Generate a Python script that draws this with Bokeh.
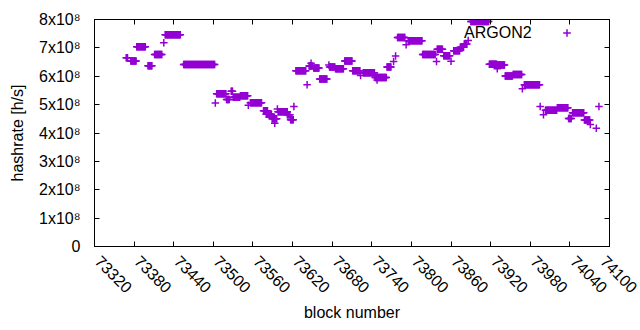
import numpy as np
from bokeh.plotting import figure
from bokeh.models import (Range1d, LinearAxis, FixedTicker, Label, Legend,
                          LegendItem, ColumnDataSource)
from bokeh.embed import file_html
from bokeh.resources import INLINE

# runs of consecutive blocks sharing the same hashrate estimate
run_start = [73368, 73375, 73384, 73401, 73411, 73425, 73427, 73455, 73503, 73505,
             73520, 73527, 73530, 73541, 73553, 73556, 73576, 73580, 73589, 73593,
             73597, 73598, 73612, 73617, 73622, 73625, 73642, 73645, 73648, 73652,
             73661, 73675, 73676, 73685, 73699, 73711, 73723, 73727, 73745, 73748,
             73763, 73773, 73776, 73779, 73792, 73795, 73817, 73838, 73839, 73849,
             73860, 73864, 73874, 73880, 73886, 73890, 73918, 73930, 73930, 73942,
             73954, 73968, 73971, 73995, 74000, 74003, 74021, 74038, 74044, 74062,
             74071, 74080, 74084]
run_end = [73370, 73383, 73397, 73407, 73422, 73425, 73450, 73502, 73503, 73519,
           73524, 73529, 73540, 73552, 73553, 73573, 73582, 73588, 73596, 73593,
           73597, 73612, 73616, 73621, 73622, 73640, 73642, 73650, 73648, 73660,
           73672, 73675, 73684, 73697, 73710, 73722, 73723, 73744, 73762, 73748,
           73769, 73773, 73776, 73790, 73792, 73816, 73836, 73838, 73847, 73858,
           73860, 73873, 73879, 73884, 73886, 73917, 73929, 73941, 73930, 73953,
           73967, 73968, 73994, 73995, 74000, 74020, 74037, 74042, 74061, 74070,
           74071, 74080, 74084]
run_hashrate = [6.65e8, 6.54e8, 7.04e8, 6.37e8, 6.77e8, 7.18e8, 7.46e8, 6.41e8, 5.06e8, 5.38e8,
                5.18e8, 5.47e8, 5.26e8, 5.31e8, 4.98e8, 5.07e8, 4.78e8, 4.66e8, 4.50e8, 4.34e8,
                4.85e8, 4.75e8, 4.64e8, 4.47e8, 4.93e8, 6.19e8, 5.70e8, 6.36e8, 6.46e8, 6.29e8,
                5.90e8, 6.40e8, 6.33e8, 6.26e8, 6.54e8, 6.19e8, 6.03e8, 6.12e8, 5.96e8, 5.87e8,
                6.33e8, 6.52e8, 6.71e8, 7.37e8, 7.11e8, 7.25e8, 6.77e8, 6.52e8, 6.95e8, 6.72e8,
                6.53e8, 6.90e8, 7.02e8, 7.14e8, 7.26e8, 7.93e8, 6.42e8, 6.40e8, 6.26e8, 6.01e8,
                6.06e8, 5.56e8, 5.70e8, 4.93e8, 4.64e8, 4.80e8, 4.89e8, 4.51e8, 4.71e8, 4.46e8,
                4.30e8, 4.17e8, 4.93e8]

x_ticks = [73320, 73380, 73440, 73500, 73560, 73620, 73680, 73740, 73800,
           73860, 73920, 73980, 74040, 74100]
x_tick_labels = [str(t) for t in x_ticks]
y_ticks = [0, 1e8, 2e8, 3e8, 4e8, 5e8, 6e8, 7e8, 8e8]
y_tick_labels = ["0", "1x10\u2078", "2x10\u2078", "3x10\u2078", "4x10\u2078",
                 "5x10\u2078", "6x10\u2078", "7x10\u2078", "8x10\u2078"]
series_name = "ARGON2"

blocks = np.concatenate([np.arange(s, e + 1) for s, e in zip(run_start, run_end)])
rates = np.concatenate([np.full(e - s + 1, v) for s, e, v in zip(run_start, run_end, run_hashrate)])
src = ColumnDataSource(dict(block=blocks, hashrate=rates))

FONT = "Liberation Sans"
FS = "16px"
COLOR = "#9400d3"

p = figure(width=640, height=330, x_range=Range1d(73320, 74100), y_range=Range1d(0, 8e8),
           output_backend="svg", toolbar_location=None,
           min_border_left=94, min_border_right=31, min_border_top=19, min_border_bottom=84)
p.grid.visible = False
p.outline_line_color = "black"

r = p.scatter(x="block", y="hashrate", source=src, marker="cross", size=7.5,
              line_color=COLOR, line_width=1.5)

def style(ax):
    ax.major_tick_in = 5
    ax.major_tick_out = 0
    ax.minor_tick_line_color = None
    ax.axis_line_color = "black"
    ax.major_tick_line_color = "black"
    ax.major_label_text_font = FONT
    ax.major_label_text_font_size = FS
    ax.major_label_text_color = "black"
    ax.axis_label_text_font = FONT
    ax.axis_label_text_font_size = FS
    ax.axis_label_text_font_style = "normal"
    ax.axis_label_text_color = "black"

xa = p.xaxis[0]
ya = p.yaxis[0]
style(xa)
style(ya)
xa.ticker = FixedTicker(ticks=x_ticks)
xa.major_label_overrides = {t: "\u00a0" + l for t, l in zip(x_ticks, x_tick_labels)}
xa.major_label_orientation = -np.pi / 4
xa.major_label_standoff = 9
xa.axis_label = "block number"
xa.axis_label_standoff = -1
ya.ticker = FixedTicker(ticks=y_ticks)
ya.major_label_overrides = {t: l for t, l in zip(y_ticks, y_tick_labels)}
ya.major_label_standoff = 14
ya.axis_label = "hashrate [h/s]"
ya.axis_label_standoff = 10

top = LinearAxis(ticker=FixedTicker(ticks=x_ticks))
right = LinearAxis(ticker=FixedTicker(ticks=y_ticks))
for ax in (top, right):
    style(ax)
    ax.major_label_standoff = 0
top.major_label_overrides = {t: "" for t in x_ticks}
right.major_label_overrides = {t: "" for t in y_ticks}
p.add_layout(top, "above")
p.add_layout(right, "right")

p.add_layout(Label(x=73982, y=7.54e8, text=series_name, text_align="right",
                   text_baseline="middle", text_font=FONT, text_font_size=FS,
                   text_color="black"))

leg = Legend(items=[LegendItem(label=" ", renderers=[r])], location=(463, 204),
             padding=0, margin=0, spacing=0, border_line_color=None,
             background_fill_alpha=0, label_standoff=0, label_width=0, label_height=19,
             glyph_width=19, glyph_height=19, label_text_font_size="1px")
p.add_layout(leg, "center")

open("out.html", "w").write(file_html(p, INLINE))
